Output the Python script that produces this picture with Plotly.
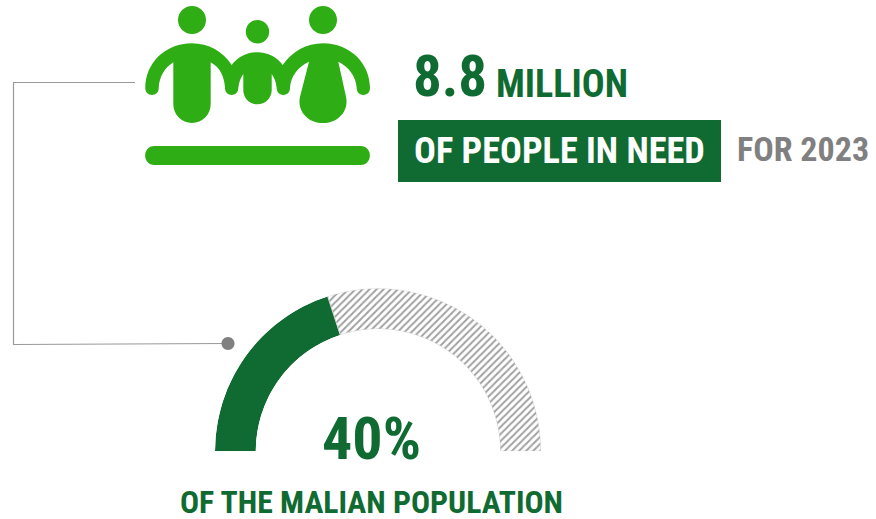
import plotly.graph_objects as go

W, H = 876, 519
GREEN = "#106B32"
LIGHT = "#2EAD14"
GREY = "#808080"

shares = [40, 60]
gauge_colors = [GREEN, "#FFFFFF"]
FONT = "Roboto Condensed"

def z(x, y):
    return f"{130 + x / 3:.1f},{y / 3:.1f}"

def circle(cx, cy, r):
    k = 0.5523 * r
    return (f"M{cx-r},{cy} C{cx-r},{cy-k} {cx-k},{cy-r} {cx},{cy-r} "
            f"C{cx+k},{cy-r} {cx+r},{cy-k} {cx+r},{cy} "
            f"C{cx+r},{cy+k} {cx+k},{cy+r} {cx},{cy+r} "
            f"C{cx-k},{cy+r} {cx-r},{cy+k} {cx-r},{cy} Z")

def C(a, b, c):
    return f"C{z(*a)} {z(*b)} {z(*c)} "

body = "M" + z(46, 264) + " "
body += C((46, 190), (105, 130), (186, 130))
body += C((235, 130), (280, 155), (305, 195))
body += C((322, 172), (350, 157), (382, 157))
body += C((414, 157), (442, 172), (458, 195))
body += C((485, 155), (530, 130), (579, 130))
body += C((660, 130), (720, 190), (720, 264))
body += C((720, 292), (680, 292), (680, 264))
body += C((678, 228), (655, 200), (625, 185))
body += "L" + z(648, 290) + " "
body += C((658, 335), (622, 369), (579, 369))
body += C((536, 369), (500, 335), (510, 290))
body += "L" + z(537, 185) + " "
body += C((505, 200), (482, 228), (480, 264))
body += C((480, 292), (440, 292), (440, 264))
body += C((438, 245), (432, 232), (425, 222))
body += "L" + z(425, 270) + " "
body += C((425, 294), (406, 313), (382, 313))
body += C((358, 313), (340, 294), (340, 270))
body += "L" + z(340, 222) + " "
body += C((333, 232), (327, 245), (325, 264))
body += C((325, 292), (285, 292), (285, 264))
body += C((283, 228), (270, 203), (242, 187))
body += "L" + z(242, 313) + " "
body += C((242, 344), (217, 369), (186, 369))
body += C((155, 369), (130, 344), (130, 313))
body += "L" + z(130, 187) + " "
body += C((105, 203), (88, 228), (86, 264))
body += C((86, 292), (46, 292), (46, 264))
body += "Z"

bar = ("M154.5,146 L360.5,146 C373,146 373,165 360.5,165 L154.5,165 "
       "C142,165 142,146 154.5,146 Z")

shapes = [
    dict(type="path", path=circle(192, 20, 14), fillcolor=LIGHT, line_width=0),
    dict(type="path", path=circle(257.5, 31.7, 11.7), fillcolor=LIGHT, line_width=0),
    dict(type="path", path=circle(323, 20, 14), fillcolor=LIGHT, line_width=0),
    dict(type="path", path=body, fillcolor=LIGHT, line_width=0),
    dict(type="path", path=bar, fillcolor=LIGHT, line_width=0),
    dict(type="rect", x0=398, x1=721, y0=120, y1=182, fillcolor=GREEN, line_width=0),
    dict(type="path", path="M135,82.5 L13.5,82.5 L13.5,344.5 L228,343.5",
         line=dict(color="#999999", width=1.2)),
    dict(type="path", path=circle(228, 343.5, 6.5), fillcolor=GREY, line_width=0),
]

def label(text, x, y, size, color, anchor="left"):
    return dict(text=f"<b>{text}</b>", x=x, y=y, xref="x", yref="y", xanchor=anchor,
                yanchor="middle", showarrow=False,
                font=dict(family=FONT, size=size, color=color))

annotations = [
    label("8.8", 411, 76, 57, GREEN),
    label("MILLION", 494, 84, 38, GREEN),
    label("OF PEOPLE IN NEED", 412, 150, 36.3, "#FFFFFF"),
    label("FOR 2023", 735, 149, 34, GREY),
    label("40%", 371.5, 438, 60, GREEN, "center"),
    label("OF THE MALIAN POPULATION", 371, 502, 31.7, GREEN, "center"),
]

widths = [s * 1.8 for s in shares]
starts = [0, widths[0]]
thetas = [s + w / 2 for s, w in zip(starts, widths)]

fig = go.Figure()
fig.add_trace(go.Scatter(x=[None], y=[None], hoverinfo="skip"))
fig.add_trace(go.Barpolar(
    r=[1, 1], theta=thetas, width=widths,
    marker=dict(
        color=gauge_colors,
        line=dict(color=["rgba(0,0,0,0)", "#D0D0D0"], width=1),
        pattern=dict(shape=["", "/"], fgcolor="#EDEDED", bgcolor="#FFFFFF",
                     size=5, solidity=0.4),
    ),
    hoverinfo="skip",
))
fig.update_layout(
    width=W, height=H, autosize=False, showlegend=False,
    margin=dict(l=0, r=0, t=0, b=0),
    paper_bgcolor="white", plot_bgcolor="white",
    xaxis=dict(range=[0, W], visible=False, domain=[0, 1], fixedrange=True),
    yaxis=dict(range=[H, 0], visible=False, domain=[0, 1], fixedrange=True),
    polar=dict(
        domain=dict(x=[215 / W, 541 / W], y=[1 - 451.5 / H, 1 - 288 / H]),
        sector=[0, 180], hole=0.75,
        bgcolor="rgba(0,0,0,0)",
        radialaxis=dict(visible=False, range=[0, 1]),
        angularaxis=dict(visible=False, direction="clockwise", rotation=180),
    ),
    shapes=shapes, annotations=annotations,
)
fig.write_html("out.html", config={"displayModeBar": False},
               post_script="document.body.style.margin='0';document.body.style.overflow='hidden';")
